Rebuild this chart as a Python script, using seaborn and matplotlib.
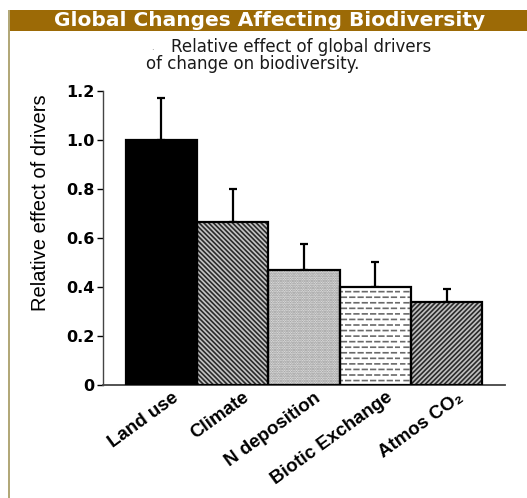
import warnings
import numpy as np
import seaborn as sns
import matplotlib.pyplot as plt
import matplotlib.hatch as mhatch
from matplotlib.path import Path
from matplotlib.patches import Rectangle
from matplotlib.transforms import ScaledTranslation

warnings.filterwarnings('ignore')

drivers = ['Land use', 'Climate', 'N deposition', 'Biotic Exchange', 'Atmos CO\u2082']
effects = [1.00, 0.665, 0.47, 0.40, 0.34]
err_up = [0.17, 0.135, 0.105, 0.10, 0.05]
yticks = [0, 0.2, 0.4, 0.6, 0.8, 1.0, 1.2]
ytick_labels = ['0', '0.2', '0.4', '0.6', '0.8', '1.0', '1.2']

# fill / hatch per bar
faces = ['black', '#c4c4c4', '#ececec', 'white', '#c0c0c0']
hatches = [None, '\\\\\\\\\\\\\\', '.......', '_', '///////']
hatch_cols = ['black', '#2a2a2a', '#8c8c8c', '#6a6a6a', '#2a2a2a']


# short staggered dashes, like the "Biotic Exchange" fill
class DashHatch(mhatch.HatchPatternBase):
    rows, per_row = 18, 12

    def __init__(self, hatch, density):
        self.num_vertices = 2 * self.rows * self.per_row if '_' in hatch else 0

    def set_vertices_and_codes(self, vertices, codes):
        k = 0
        for r in range(self.rows):
            y = (r + 0.5) / self.rows
            shift = 0.5 * (r % 2)
            for c in range(self.per_row):
                x0 = (c + shift) / self.per_row
                vertices[k] = (x0, y)
                vertices[k + 1] = (x0 + 0.55 / self.per_row, y)
                codes[k] = Path.MOVETO
                codes[k + 1] = Path.LINETO
                k += 2


mhatch._hatch_types.append(DashHatch)

sns.set_style('white')
plt.rcParams['font.family'] = ['Liberation Sans', 'DejaVu Sans']
plt.rcParams['text.color'] = 'black'
plt.rcParams['axes.labelcolor'] = 'black'
plt.rcParams['xtick.color'] = 'black'
plt.rcParams['ytick.color'] = 'black'
plt.rcParams['hatch.linewidth'] = 1.2

fig = plt.figure(figsize=(5.27, 4.98), dpi=100)

# page decoration: header bar and left border
fig.patches.append(Rectangle((8 / 527, 1 - 31 / 498), 1, 21 / 498, transform=fig.transFigure,
                             facecolor='#9c6a06', edgecolor='none'))
fig.patches.append(Rectangle((8 / 527, 0), 2 / 527, 1 - 10 / 498, transform=fig.transFigure,
                             facecolor='#b2a878', edgecolor='none'))
fig.text(270 / 527, 1 - 20.5 / 498, 'Global Changes Affecting Biodiversity', color='white',
         fontsize=14.5, fontweight='bold', family='DejaVu Sans', ha='center', va='center')
fig.text(152 / 527, 1 - 47 / 498, '.', fontsize=6, family='DejaVu Sans', color='#777777',
         ha='center', va='center')
fig.text(171 / 527, 1 - 47 / 498, 'Relative effect of global drivers', fontsize=12,
         family='DejaVu Sans', color='#1a1a1a', ha='left', va='center')
fig.text(146 / 527, 1 - 64 / 498, 'of change on biodiversity.', fontsize=12,
         family='DejaVu Sans', color='#1a1a1a', ha='left', va='center')

ax = fig.add_axes([103 / 527, 1 - 385 / 498, 402 / 527, 294 / 498])
sns.barplot(x=drivers, y=effects, width=1.0, color='black', ax=ax, errorbar=None, zorder=2)

for p, fc, h, hc in zip(ax.patches, faces, hatches, hatch_cols):
    p.set_facecolor(fc)
    p.set_hatch(h)
    p.set_edgecolor(hc)
    p.set_linewidth(0)
    ax.add_patch(Rectangle((p.get_x(), p.get_y()), p.get_width(), p.get_height(),
                           fill=False, edgecolor='black', linewidth=1.6, zorder=3))

ax.errorbar(drivers, effects, yerr=[np.zeros(len(effects)), err_up], fmt='none',
            ecolor='black', elinewidth=1.6, capsize=3, capthick=1.6, zorder=1)

ax.set_xlim(-0.82, 4.82)
ax.set_ylim(0, 1.2)
ax.set_yticks(yticks)
ax.set_yticklabels(ytick_labels, fontsize=11.5, fontweight='bold', family='DejaVu Sans')
ax.set_ylabel('Relative effect of drivers', fontsize=14.5)
ax.yaxis.set_label_coords(-0.132, 0.62)
ax.set_xlabel('')
ax.tick_params(axis='y', direction='out', length=4, width=1, left=True, pad=2)
ax.tick_params(axis='x', length=0, pad=3)
shift = ScaledTranslation(10 / 100, 0, fig.dpi_scale_trans)
for lab in ax.get_xticklabels():
    lab.set_rotation(36)
    lab.set_ha('right')
    lab.set_rotation_mode('anchor')
    lab.set_fontsize(13.5)
    lab.set_fontweight('bold')
    lab.set_transform(lab.get_transform() + shift)

sns.despine(ax=ax)
ax.spines['left'].set_color('#444444')
ax.spines['bottom'].set_color('#444444')
ax.spines['left'].set_linewidth(1)
ax.spines['bottom'].set_linewidth(1.3)
ax.set_facecolor('none')

fig.savefig('out.png', dpi=100)
